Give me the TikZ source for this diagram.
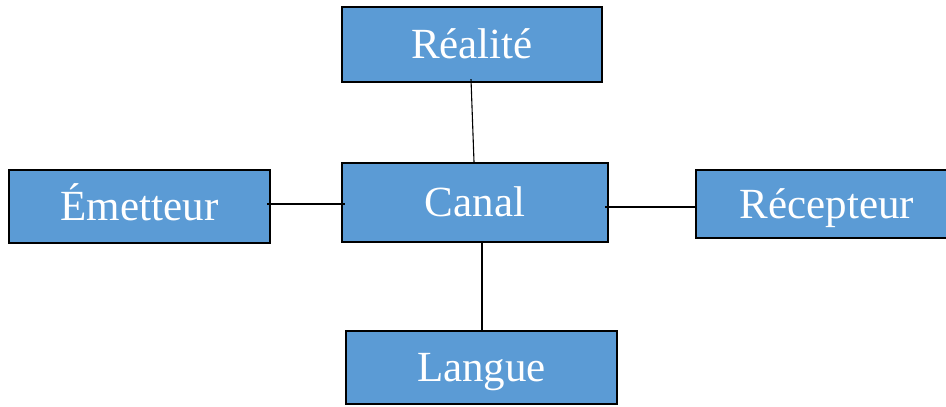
\documentclass[tikz,border=0pt]{standalone}
\usepackage{fontspec}
\setmainfont{Liberation Serif}
\definecolor{boxblue}{HTML}{5B9BD5}
\begin{document}
\begin{tikzpicture}[x=1pt,y=-1pt,
  box/.style={draw=black,line width=2.4pt,fill=boxblue,text=white,
    inner sep=0pt,text height=36pt,text depth=8pt,
    font=\fontsize{43}{50}\selectfont},
  link/.style={draw=black,line width=1.1pt}]
  \useasboundingbox (0,0) rectangle (946,407);
  \begin{scope}
  \clip (0,0) rectangle (946,407);
  \node[box,minimum width=260pt,minimum height=75pt] (realite) at (472,44.5) {Réalité};
  \node[box,minimum width=261pt,minimum height=73pt] (emetteur) at (139.5,206.5) {Émetteur};
  \node[box,minimum width=266pt,minimum height=79pt] (canal) at (475,202.5) {Canal};
  \node[box,minimum width=262pt,minimum height=68pt] (recepteur) at (827,204) {Récepteur};
  \node[box,minimum width=271pt,minimum height=73pt] (langue) at (481.5,367.5) {Langue};
  \end{scope}
  % connectors between the central box and its neighbours
  \draw[link] ([shift={(-1,-4)}]realite.south) -- ([shift={(-1,0)}]canal.north);
  \draw[link] ([shift={(-4,-2.5)}]emetteur.east) -- ([shift={(4,1.5)}]canal.west);
  \draw[link] ([shift={(-4,4.5)}]canal.east) -- ([shift={(0,3)}]recepteur.west);
  \draw[link] ([shift={(7,0)}]canal.south) -- ([shift={(0.5,0)}]langue.north);
\end{tikzpicture}
\end{document}
